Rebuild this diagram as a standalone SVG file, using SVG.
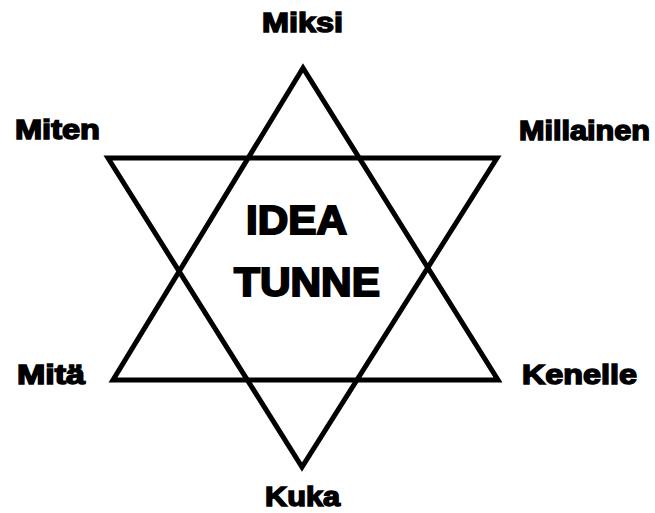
<svg xmlns="http://www.w3.org/2000/svg" width="655" height="513" viewBox="0 0 655 513">
<style>
.tri{fill:none;stroke:#000;stroke-width:5;stroke-linejoin:miter}
.lbl{font-family:"Liberation Sans",Arial,sans-serif;font-weight:bold;font-size:27px;fill:#000;stroke:#000;stroke-width:1.5}
.big{font-family:"Liberation Sans",Arial,sans-serif;font-weight:bold;font-size:40px;fill:#000;stroke:#000;stroke-width:2}
</style>
<rect width="655" height="513" fill="#fff"/>
<g id="star">
<polygon class="tri" points="303,68 113,380 498,380"/>
<polygon class="tri" points="108,158 497,158 302,467"/>
</g>
<g id="miksi"><text class="lbl" x="262" y="32" textLength="81" lengthAdjust="spacingAndGlyphs">Miksi</text></g>
<g id="miten"><text class="lbl" x="15" y="139" textLength="85" lengthAdjust="spacingAndGlyphs">Miten</text></g>
<g id="millainen"><text class="lbl" x="519" y="140" textLength="131" lengthAdjust="spacingAndGlyphs">Millainen</text></g>
<g id="mita"><text class="lbl" x="17" y="384" textLength="68" lengthAdjust="spacingAndGlyphs">Mitä</text></g>
<g id="kenelle"><text class="lbl" x="522" y="384" textLength="115" lengthAdjust="spacingAndGlyphs">Kenelle</text></g>
<g id="kuka"><text class="lbl" x="265" y="506" textLength="75" lengthAdjust="spacingAndGlyphs">Kuka</text></g>
<g id="center">
<text class="big" x="246" y="234" textLength="101" lengthAdjust="spacingAndGlyphs">IDEA</text>
<text class="big" x="234" y="296" textLength="146" lengthAdjust="spacingAndGlyphs">TUNNE</text>
</g>
</svg>
